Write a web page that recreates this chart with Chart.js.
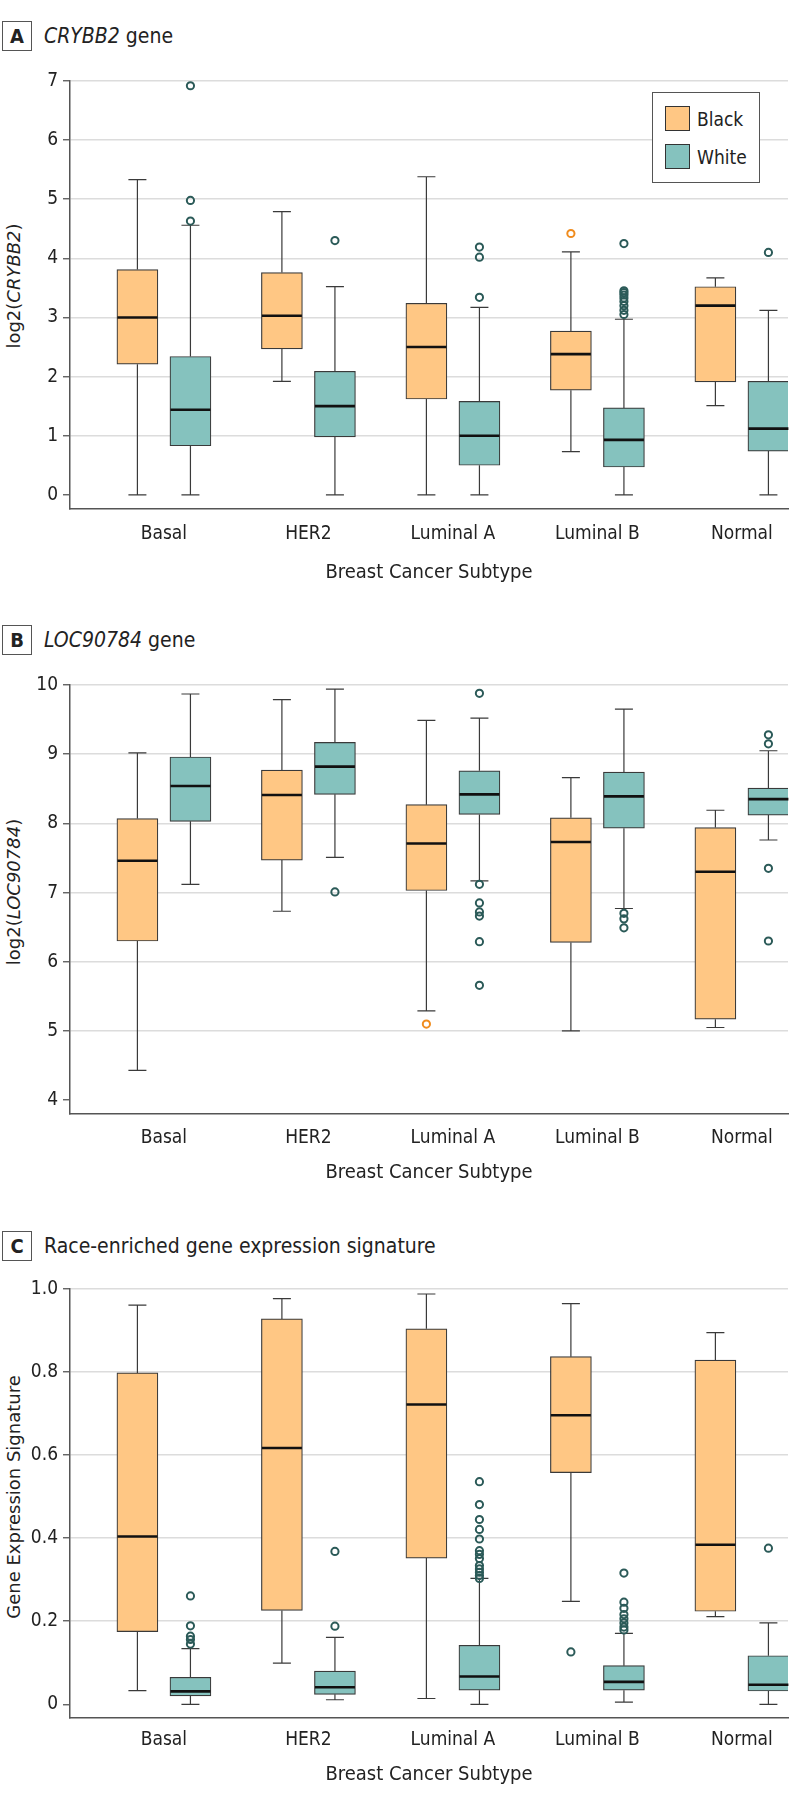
<!DOCTYPE html>
<html>
<head>
<meta charset="utf-8">
<script src="https://cdn.jsdelivr.net/npm/chart.js@4.4.1/dist/chart.umd.min.js"></script>
<style>
  body { margin: 0; background: #fff; }
  #page { position: relative; width: 798px; height: 1803px; overflow: hidden; background: #fff;
          font-family: 'DejaVu Sans Condensed', 'DejaVu Sans', sans-serif; color: #222; }
  canvas { position: absolute; left: 0; }
  .tag { position: absolute; left: 2px; width: 28px; height: 28px; border: 1.5px solid #555;
         font-weight: bold; font-size: 20px; line-height: 28px; text-align: center; color: #222; }
  .htxt { position: absolute; left: 44px; font-size: 21px; line-height: 31px; white-space: nowrap; color: #222; }
  .ytitle { position: absolute; font-family: 'DejaVu Sans', sans-serif; font-size: 18px; white-space: nowrap;
            color: #222; transform: translate(-50%, -50%) rotate(-90deg); line-height: 22px; }
  .legend { position: absolute; left: 652px; top: 92px; width: 106px; height: 89px; border: 1.2px solid #555; background: #fff; }
  .sw { position: absolute; left: 12px; width: 23px; height: 23px; border: 1px solid #333; }
  .lt { position: absolute; left: 44px; font-size: 19px; line-height: 24px; color: #222; }
</style>
</head>
<body>
<div id="page">
  <div class="tag" style="top:21px;">A</div>
  <div class="htxt" style="top:21px;"><i>CRYBB2</i> gene</div>
  <div class="ytitle" style="left:14px; top:286px;">log2(<i>CRYBB2</i>)</div>
  <canvas id="chartA" width="798" height="529" style="top:60px;"></canvas>
  <div class="legend">
    <div class="sw" style="top:13px; background:#FFC784;"></div>
    <div class="lt" style="top:14px;">Black</div>
    <div class="sw" style="top:51px; background:#85C2BE;"></div>
    <div class="lt" style="top:52px;">White</div>
  </div>

  <div class="tag" style="top:625px;">B</div>
  <div class="htxt" style="top:625px;"><i>LOC90784</i> gene</div>
  <div class="ytitle" style="left:14px; top:892px;">log2(<i>LOC90784</i>)</div>
  <canvas id="chartB" width="798" height="525" style="top:664px;"></canvas>

  <div class="tag" style="top:1231px;">C</div>
  <div class="htxt" style="top:1231px;">Race-enriched gene expression signature</div>
  <div class="ytitle" style="left:14px; top:1497px;">Gene Expression Signature</div>
  <canvas id="chartC" width="798" height="523" style="top:1268px;"></canvas>
</div>

<script>
// ---------------- DATA ----------------
const categories = ['Basal', 'HER2', 'Luminal A', 'Luminal B', 'Normal'];
const xTitle = 'Breast Cancer Subtype';

// Panel A: CRYBB2
const crybb2Ticks = [0, 1, 2, 3, 4, 5, 6, 7];
const crybb2BlackMin    = [0.00, 1.92, 0.00, 0.73, 1.51];
const crybb2BlackQ1     = [2.21, 2.47, 1.62, 1.77, 1.91];
const crybb2BlackMedian = [3.00, 3.03, 2.50, 2.38, 3.20];
const crybb2BlackQ3     = [3.81, 3.76, 3.24, 2.77, 3.52];
const crybb2BlackMax    = [5.33, 4.79, 5.38, 4.11, 3.67];
const crybb2BlackOutliers = [[], [], [], [4.42], []];
const crybb2WhiteMin    = [0.00, 0.00, 0.00, 0.00, 0.00];
const crybb2WhiteQ1     = [0.83, 0.98, 0.50, 0.47, 0.74];
const crybb2WhiteMedian = [1.44, 1.50, 1.00, 0.93, 1.12];
const crybb2WhiteQ3     = [2.34, 2.09, 1.58, 1.47, 1.92];
const crybb2WhiteMax    = [4.56, 3.52, 3.17, 2.97, 3.12];
const crybb2WhiteOutliers = [
  [6.92, 4.98, 4.63],
  [4.30],
  [4.19, 4.02, 3.34],
  [4.25, 3.45, 3.42, 3.38, 3.33, 3.27, 3.20, 3.12, 3.05],
  [4.10]
];

// Panel B: LOC90784
const locTicks = [4, 5, 6, 7, 8, 9, 10];
const locBlackMin    = [4.43, 6.73, 5.29, 5.00, 5.05];
const locBlackQ1     = [6.30, 7.47, 7.03, 6.28, 5.17];
const locBlackMedian = [7.46, 8.41, 7.71, 7.73, 7.30];
const locBlackQ3     = [8.07, 8.77, 8.27, 8.08, 7.94];
const locBlackMax    = [9.02, 9.79, 9.49, 8.66, 8.19];
const locBlackOutliers = [[], [], [5.10], [], []];
const locWhiteMin    = [7.12, 7.51, 7.17, 6.77, 7.76];
const locWhiteQ1     = [8.03, 8.42, 8.13, 7.93, 8.12];
const locWhiteMedian = [8.54, 8.82, 8.42, 8.39, 8.35];
const locWhiteQ3     = [8.96, 9.17, 8.76, 8.74, 8.51];
const locWhiteMax    = [9.87, 9.94, 9.52, 9.65, 9.05];
const locWhiteOutliers = [
  [],
  [7.01],
  [9.88, 7.12, 6.85, 6.72, 6.66, 6.29, 5.66],
  [6.70, 6.62, 6.49],
  [9.28, 9.15, 7.35, 6.30]
];

// Panel C: race-enriched signature
const sigTicks = [0, 0.2, 0.4, 0.6, 0.8, 1.0];
const sigBlackMin    = [0.033, 0.099, 0.014, 0.248, 0.211];
const sigBlackQ1     = [0.175, 0.226, 0.352, 0.558, 0.224];
const sigBlackMedian = [0.404, 0.617, 0.722, 0.696, 0.384];
const sigBlackQ3     = [0.798, 0.928, 0.904, 0.837, 0.829];
const sigBlackMax    = [0.961, 0.977, 0.988, 0.965, 0.895];
const sigBlackOutliers = [[], [], [], [0.126], []];
const sigWhiteMin    = [0.000, 0.011, 0.000, 0.005, 0.000];
const sigWhiteQ1     = [0.020, 0.024, 0.034, 0.034, 0.032];
const sigWhiteMedian = [0.031, 0.041, 0.067, 0.054, 0.047];
const sigWhiteQ3     = [0.065, 0.080, 0.142, 0.093, 0.117];
const sigWhiteMax    = [0.134, 0.161, 0.303, 0.171, 0.196];
const sigWhiteOutliers = [
  [0.261, 0.189, 0.164, 0.156, 0.145],
  [0.368, 0.188],
  [0.536, 0.481, 0.445, 0.421, 0.398, 0.370, 0.361, 0.351, 0.334, 0.326, 0.318, 0.310, 0.303],
  [0.316, 0.246, 0.231, 0.216, 0.206, 0.196, 0.186, 0.179],
  [0.376]
];

// ---------------- STYLE ----------------
const FONT = "'DejaVu Sans Condensed', 'DejaVu Sans', sans-serif";
const ORANGE = '#FFC784';
const TEAL = '#85C2BE';
const EDGE = '#3a3a3a';
const OUT_TEAL = '#2B5A58';
const OUT_ORANGE = '#F08C1E';
const BLACK_OFFSET = -0.1835;
const WHITE_OFFSET = 0.1835;
const BOX_PX = 41;
const CAP_PX = 18;
const X_MIN = -0.650;
const X_MAX = 4.319;

function whiskerPlugin(groups) {
  return {
    id: 'whiskers',
    beforeDatasetsDraw(chart) {
      const { ctx } = chart;
      const x = chart.scales.x, y = chart.scales.y;
      ctx.save();
      ctx.strokeStyle = EDGE;
      ctx.lineWidth = 1.2;
      groups.forEach(g => {
        categories.forEach((c, i) => {
          const px = x.getPixelForValue(i + g.offset);
          const yMin = y.getPixelForValue(g.min[i]);
          const yQ1 = y.getPixelForValue(g.q1[i]);
          const yQ3 = y.getPixelForValue(g.q3[i]);
          const yMax = y.getPixelForValue(g.max[i]);
          ctx.beginPath();
          ctx.moveTo(px, yQ3); ctx.lineTo(px, yMax);
          ctx.moveTo(px, yQ1); ctx.lineTo(px, yMin);
          ctx.moveTo(px - CAP_PX / 2, yMax); ctx.lineTo(px + CAP_PX / 2, yMax);
          ctx.moveTo(px - CAP_PX / 2, yMin); ctx.lineTo(px + CAP_PX / 2, yMin);
          ctx.stroke();
        });
      });
      ctx.restore();
    },
    afterDatasetsDraw(chart) {
      const { ctx } = chart;
      const x = chart.scales.x, y = chart.scales.y;
      ctx.save();
      ctx.strokeStyle = '#111';
      ctx.lineWidth = 2.6;
      groups.forEach(g => {
        categories.forEach((c, i) => {
          const px = x.getPixelForValue(i + g.offset);
          const ym = y.getPixelForValue(g.median[i]);
          ctx.beginPath();
          ctx.moveTo(px - BOX_PX / 2 + 0.5, ym);
          ctx.lineTo(px + BOX_PX / 2 - 0.5, ym);
          ctx.stroke();
        });
      });
      ctx.restore();
    }
  };
}

function flattenOutliers(list, offset) {
  const pts = [];
  list.forEach((vals, i) => vals.forEach(v => pts.push({ x: i + offset, y: v })));
  return pts;
}

function buildPanel(id, p) {
  const black = { offset: BLACK_OFFSET, min: p.bMin, q1: p.bQ1, median: p.bMed, q3: p.bQ3, max: p.bMax };
  const white = { offset: WHITE_OFFSET, min: p.wMin, q1: p.wQ1, median: p.wMed, q3: p.wQ3, max: p.wMax };
  const barStyle = { borderColor: EDGE, borderWidth: 1.2, borderSkipped: false, grouped: false, barThickness: BOX_PX };
  new Chart(document.getElementById(id), {
    type: 'scatter',
    data: {
      datasets: [
        Object.assign({ type: 'bar', label: 'Black', backgroundColor: ORANGE,
          data: categories.map((c, i) => ({ x: i + BLACK_OFFSET, y: [p.bQ1[i], p.bQ3[i]] })) }, barStyle),
        Object.assign({ type: 'bar', label: 'White', backgroundColor: TEAL,
          data: categories.map((c, i) => ({ x: i + WHITE_OFFSET, y: [p.wQ1[i], p.wQ3[i]] })) }, barStyle),
        { type: 'scatter', label: 'Black outliers', data: flattenOutliers(p.bOut, BLACK_OFFSET),
          pointRadius: 3.6, pointBorderWidth: 2, pointBorderColor: p.bOutColor, pointBackgroundColor: 'rgba(0,0,0,0)' },
        { type: 'scatter', label: 'White outliers', data: flattenOutliers(p.wOut, WHITE_OFFSET),
          pointRadius: 3.6, pointBorderWidth: 2, pointBorderColor: OUT_TEAL, pointBackgroundColor: 'rgba(0,0,0,0)' }
      ]
    },
    options: {
      responsive: false,
      animation: false,
      events: [],
      layout: { padding: { top: p.padTop, right: 10, left: 0, bottom: 0 } },
      plugins: { legend: { display: false }, tooltip: { enabled: false } },
      scales: {
        x: {
          type: 'linear', min: X_MIN, max: X_MAX, offset: false,
          afterBuildTicks: s => { s.ticks = categories.map((c, i) => ({ value: i })); },
          afterFit: s => { s.height = p.xH; },
          ticks: { autoSkip: false, maxRotation: 0, padding: p.tickPad, color: '#222',
                   font: { family: FONT, size: 19 }, callback: v => categories[v] },
          grid: { display: false, drawTicks: false, tickLength: 0, offset: false },
          border: { display: true, color: '#555', width: 1.5 },
          title: { display: true, text: xTitle, color: '#222', font: { family: FONT, size: 20 },
                   padding: { top: 0, bottom: 4 } }
        },
        y: {
          type: 'linear', min: p.yMin, max: p.yMax,
          afterBuildTicks: s => { s.ticks = p.ticks.map(v => ({ value: v })); },
          afterFit: s => { s.width = 70; },
          ticks: { padding: 5, color: '#222', font: { family: FONT, size: 19 }, callback: p.fmt },
          grid: { color: c => (c.tick && c.tick.value === p.ticks[0]) ? 'rgba(0,0,0,0)' : '#dcdcdc',
                  lineWidth: 1.5, drawTicks: true, tickLength: 7, tickColor: '#555', tickWidth: 1.3 },
          border: { display: true, color: '#555', width: 1.5 }
        }
      }
    },
    plugins: [whiskerPlugin([black, white])]
  });
}

buildPanel('chartA', {
  ticks: crybb2Ticks, yMin: -0.24, yMax: 7, padTop: 21, xH: 80, tickPad: 14,
  fmt: v => String(v),
  bMin: crybb2BlackMin, bQ1: crybb2BlackQ1, bMed: crybb2BlackMedian, bQ3: crybb2BlackQ3, bMax: crybb2BlackMax,
  wMin: crybb2WhiteMin, wQ1: crybb2WhiteQ1, wMed: crybb2WhiteMedian, wQ3: crybb2WhiteQ3, wMax: crybb2WhiteMax,
  bOut: crybb2BlackOutliers, wOut: crybb2WhiteOutliers, bOutColor: OUT_ORANGE
});

buildPanel('chartB', {
  ticks: locTicks, yMin: 3.80, yMax: 10, padTop: 21, xH: 75, tickPad: 13,
  fmt: v => String(v),
  bMin: locBlackMin, bQ1: locBlackQ1, bMed: locBlackMedian, bQ3: locBlackQ3, bMax: locBlackMax,
  wMin: locWhiteMin, wQ1: locWhiteQ1, wMed: locWhiteMedian, wQ3: locWhiteQ3, wMax: locWhiteMax,
  bOut: locBlackOutliers, wOut: locWhiteOutliers, bOutColor: OUT_ORANGE
});

buildPanel('chartC', {
  ticks: sigTicks, yMin: -0.033, yMax: 1.0, padTop: 21, xH: 73, tickPad: 11,
  fmt: v => (v === 0 ? '0' : v.toFixed(1)),
  bMin: sigBlackMin, bQ1: sigBlackQ1, bMed: sigBlackMedian, bQ3: sigBlackQ3, bMax: sigBlackMax,
  wMin: sigWhiteMin, wQ1: sigWhiteQ1, wMed: sigWhiteMedian, wQ3: sigWhiteQ3, wMax: sigWhiteMax,
  bOut: sigBlackOutliers, wOut: sigWhiteOutliers, bOutColor: OUT_TEAL
});
</script>
</body>
</html>
